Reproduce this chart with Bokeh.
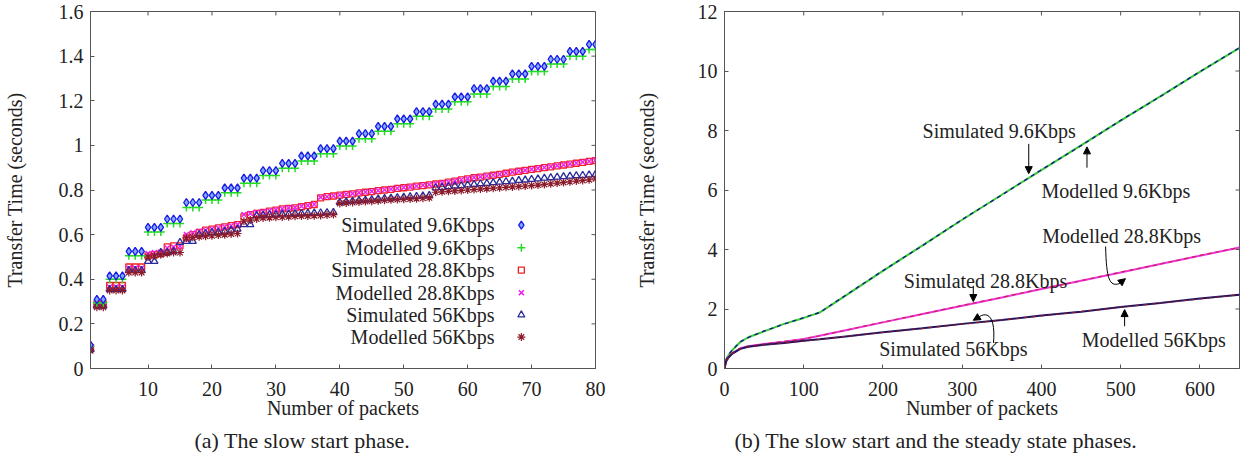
import math
from bokeh.plotting import figure
from bokeh.layouts import row
from bokeh.models import (FixedTicker, CustomJSTickFormatter, Range1d,
                          Label, Arrow, NormalHead, Title)
from bokeh.embed import file_html
from bokeh.resources import INLINE

FONT = "Liberation Serif"
FS = "20px"

# ---------------- data: (a) slow start phase ----------------
packets_a = list(range(1, 81))
sim_96 = [0.105,
          0.310, 0.310,
          0.415, 0.415, 0.415, 0.525, 0.525, 0.525, 0.632, 0.632, 0.632,
          0.670, 0.670, 0.670, 0.744, 0.744, 0.744, 0.776, 0.776, 0.776,
          0.810, 0.810, 0.810, 0.853, 0.853, 0.853, 0.887, 0.887, 0.887,
          0.919, 0.919, 0.919, 0.953, 0.953, 0.953, 0.985, 0.985, 0.985,
          1.019, 1.019, 1.019, 1.053, 1.053, 1.053, 1.085, 1.085, 1.085,
          1.119, 1.119, 1.119, 1.151, 1.151, 1.151, 1.185, 1.185, 1.185,
          1.217, 1.217, 1.217, 1.254, 1.254, 1.254, 1.288, 1.288, 1.288,
          1.320, 1.320, 1.320, 1.354, 1.354, 1.354, 1.386, 1.386, 1.386,
          1.421, 1.421, 1.421, 1.453, 1.453]
mod_96 = [0.100,
          0.295, 0.295,
          0.400, 0.400, 0.400, 0.505, 0.505, 0.505, 0.612, 0.612, 0.612,
          0.650, 0.650, 0.650, 0.722, 0.722, 0.722, 0.755, 0.755, 0.755,
          0.788, 0.788, 0.788, 0.830, 0.830, 0.830, 0.865, 0.865, 0.865,
          0.897, 0.897, 0.897, 0.930, 0.930, 0.930, 0.963, 0.963, 0.963,
          0.997, 0.997, 0.997, 1.030, 1.030, 1.030, 1.063, 1.063, 1.063,
          1.097, 1.097, 1.097, 1.130, 1.130, 1.130, 1.163, 1.163, 1.163,
          1.196, 1.196, 1.196, 1.230, 1.230, 1.230, 1.264, 1.264, 1.264,
          1.298, 1.298, 1.298, 1.331, 1.331, 1.331, 1.365, 1.365, 1.365,
          1.400, 1.400, 1.400, 1.430, 1.430]
sim_288 = [0.095,
           0.290, 0.290,
           0.372, 0.372, 0.372, 0.455, 0.455, 0.455, 0.505, 0.510, 0.515,
           0.545, 0.550, 0.550, 0.585, 0.600, 0.610, 0.620, 0.625, 0.630,
           0.635, 0.640, 0.645, 0.680, 0.690, 0.695, 0.700, 0.705, 0.710,
           0.715, 0.718, 0.720, 0.725, 0.730, 0.735, 0.765, 0.770, 0.773,
           0.777, 0.780, 0.783, 0.787, 0.790, 0.793, 0.797, 0.800, 0.803,
           0.807, 0.810, 0.813, 0.817, 0.820, 0.823, 0.827, 0.830, 0.835,
           0.840, 0.845, 0.850, 0.855, 0.858, 0.862, 0.866, 0.870, 0.875,
           0.880, 0.884, 0.888, 0.892, 0.896, 0.900, 0.904, 0.908, 0.912,
           0.916, 0.920, 0.924, 0.928, 0.932]
mod_288 = [0.090,
           0.285, 0.285,
           0.365, 0.365, 0.365, 0.450, 0.450, 0.450, 0.515, 0.520, 0.522,
           0.540, 0.545, 0.548, 0.600, 0.608, 0.615, 0.620, 0.625, 0.630,
           0.635, 0.640, 0.645, 0.690, 0.695, 0.700, 0.703, 0.707, 0.712,
           0.716, 0.720, 0.722, 0.727, 0.731, 0.736, 0.767, 0.770, 0.774,
           0.778, 0.781, 0.784, 0.788, 0.791, 0.794, 0.798, 0.801, 0.804,
           0.808, 0.811, 0.814, 0.818, 0.821, 0.824, 0.828, 0.832, 0.836,
           0.841, 0.846, 0.851, 0.856, 0.859, 0.863, 0.867, 0.871, 0.876,
           0.881, 0.885, 0.889, 0.893, 0.897, 0.901, 0.905, 0.909, 0.913,
           0.917, 0.921, 0.925, 0.929, 0.933]
sim_56 = [0.085,
          0.280, 0.280,
          0.355, 0.355, 0.355, 0.440, 0.440, 0.440, 0.480, 0.480, 0.520,
          0.520, 0.525, 0.565, 0.570, 0.570, 0.600, 0.605, 0.610, 0.610,
          0.615, 0.620, 0.625, 0.645, 0.645, 0.685, 0.687, 0.689, 0.690,
          0.692, 0.693, 0.694, 0.695, 0.696, 0.697, 0.698, 0.699, 0.700,
          0.745, 0.748, 0.750, 0.753, 0.755, 0.757, 0.760, 0.762, 0.764,
          0.766, 0.768, 0.770, 0.772, 0.774, 0.776, 0.810, 0.812, 0.815,
          0.818, 0.820, 0.823, 0.825, 0.828, 0.830, 0.833, 0.835, 0.838,
          0.840, 0.843, 0.845, 0.848, 0.850, 0.853, 0.855, 0.858, 0.860,
          0.862, 0.864, 0.866, 0.868, 0.870]
mod_56 = [0.080,
          0.275, 0.275,
          0.350, 0.350, 0.350, 0.430, 0.430, 0.430, 0.500, 0.505, 0.510,
          0.515, 0.520, 0.520, 0.585, 0.588, 0.590, 0.593, 0.595, 0.598,
          0.600, 0.603, 0.605, 0.660, 0.665, 0.670, 0.675, 0.676, 0.678,
          0.679, 0.680, 0.682, 0.683, 0.684, 0.685, 0.686, 0.688, 0.690,
          0.740, 0.742, 0.744, 0.746, 0.748, 0.750, 0.752, 0.754, 0.756,
          0.757, 0.758, 0.760, 0.761, 0.763, 0.765, 0.790, 0.792, 0.794,
          0.796, 0.798, 0.800, 0.802, 0.804, 0.806, 0.808, 0.810, 0.812,
          0.814, 0.816, 0.818, 0.820, 0.822, 0.825, 0.828, 0.831, 0.834,
          0.837, 0.840, 0.843, 0.846, 0.850]

# ---------------- data: (b) slow start + steady state ----------------
packets_b = [0, 2, 5, 10, 20, 30, 50, 75, 100, 120, 150, 200, 250, 300, 350,
             400, 450, 500, 550, 600, 650]
sim_96_b = [0, 0.30, 0.46, 0.63, 0.90, 1.04, 1.26, 1.49, 1.71, 1.88, 2.41,
            3.29, 4.13, 5.01, 5.83, 6.68, 7.49, 8.34, 9.14, 9.98, 10.78]
mod_96_b = [0, 0.29, 0.45, 0.62, 0.89, 1.05, 1.25, 1.50, 1.70, 1.88, 2.40,
            3.28, 4.14, 5.00, 5.84, 6.67, 7.50, 8.33, 9.15, 9.97, 10.78]
sim_288_b = [0, 0.25, 0.39, 0.52, 0.68, 0.75, 0.82, 0.91, 0.99, 1.10, 1.27,
             1.56, 1.83, 2.12, 2.39, 2.68, 2.95, 3.24, 3.51, 3.80, 4.07]
mod_288_b = [0, 0.25, 0.38, 0.52, 0.68, 0.75, 0.82, 0.90, 0.99, 1.10, 1.27,
             1.55, 1.83, 2.11, 2.39, 2.67, 2.95, 3.23, 3.51, 3.79, 4.07]
sim_56_b = [0, 0.24, 0.37, 0.50, 0.66, 0.73, 0.80, 0.86, 0.93, 0.98, 1.07,
            1.22, 1.35, 1.50, 1.63, 1.78, 1.91, 2.07, 2.20, 2.35, 2.48]
mod_56_b = [0, 0.24, 0.36, 0.50, 0.66, 0.73, 0.80, 0.86, 0.92, 0.98, 1.07,
            1.21, 1.35, 1.49, 1.63, 1.77, 1.91, 2.06, 2.20, 2.34, 2.48]

series_names = ["Simulated 9.6Kbps", "Modelled 9.6Kbps", "Simulated 28.8Kbps",
                "Modelled 28.8Kbps", "Simulated 56Kbps", "Modelled 56Kbps"]

xticks_a = [10, 20, 30, 40, 50, 60, 70, 80]
yticks_a = [0, 0.2, 0.4, 0.6, 0.8, 1.0, 1.2, 1.4, 1.6]
xticks_b = [0, 100, 200, 300, 400, 500, 600]
yticks_b = [0, 2, 4, 6, 8, 10, 12]

AX = "#555555"
TXT = "#222222"


def style_axis(ax, ticks):
    ax.ticker = FixedTicker(ticks=ticks)
    ax.major_tick_in = 4
    ax.major_tick_out = 0
    ax.minor_tick_line_color = None
    ax.axis_line_color = AX
    ax.major_tick_line_color = AX
    ax.major_label_text_font = FONT
    ax.major_label_text_color = TXT
    ax.major_label_text_font_size = FS
    ax.axis_label_text_font = FONT
    ax.axis_label_text_font_size = FS
    ax.axis_label_text_font_style = "normal"
    ax.axis_label_text_color = TXT


def make_fig(xr, yr, xt, yt, width, left, right, fmt_js):
    p = figure(width=width, height=464, x_range=xr, y_range=yr,
               output_backend="svg", toolbar_location=None,
               min_border_left=left, min_border_right=right,
               min_border_top=11, min_border_bottom=96)
    p.grid.visible = False
    p.outline_line_color = AX
    p.background_fill_color = "white"
    p.border_fill_color = "white"
    style_axis(p.xaxis[0], xt)
    style_axis(p.yaxis[0], yt)
    p.yaxis[0].formatter = CustomJSTickFormatter(code=fmt_js)
    p.xaxis[0].axis_label = "Number of packets"
    p.yaxis[0].axis_label = "Transfer Time (seconds)"
    p.xaxis[0].major_label_standoff = 13
    p.xaxis[0].axis_label_standoff = -2
    p.yaxis[0].major_label_standoff = 7
    # mirrored inward ticks on top and right frame edges
    p.ray(x=xt, y=[yr.end] * len(xt), length=4, length_units="screen",
          angle=-math.pi / 2, line_color=AX, line_width=1)
    p.ray(x=[xr.end] * len(yt), y=yt, length=4, length_units="screen",
          angle=math.pi, line_color=AX, line_width=1)
    return p


fmt = "return (Math.round(tick*10)/10).toString();"

# ---------------- figure (a) ----------------
p1 = make_fig(Range1d(1, 80), Range1d(0, 1.6), xticks_a, yticks_a, 632, 85, 37, fmt)
p1.yaxis[0].axis_label_standoff = 30

styles = [
    dict(marker="diamond", size=8, line_color="#1a1ae6", fill_color="#7fa8ff", line_width=1.3),
    dict(marker="cross", size=8, line_color="#22dd22", fill_color=None, line_width=1.5),
    dict(marker="square", size=6, line_color="#ee2222", fill_color=None, line_width=1.3),
    dict(marker="x", size=7, line_color="#ee22ee", fill_color=None, line_width=1.5),
    dict(marker="triangle", size=7, line_color="#2a2a9a", fill_color=None, line_width=1.3),
    dict(marker="asterisk", size=8, line_color="#8b1a2a", fill_color=None, line_width=1.2),
]
series_a = [sim_96, mod_96, sim_288, mod_288, sim_56, mod_56]
draw_order = [2, 3, 4, 5, 1, 0]
for i in draw_order:
    p1.scatter(packets_a, series_a[i], **styles[i])

# key (gnuplot style: label then symbol)
key_text_x = 64.2
key_mark_x = 68.4
key_rows = [0.643, 0.541, 0.441, 0.340, 0.240, 0.141]
for name, yy, st in zip(series_names, key_rows, styles):
    p1.add_layout(Label(x=key_text_x, y=yy, text=name, text_align="right",
                        text_baseline="middle", text_font=FONT,
                        text_font_size=FS, text_color=TXT))
    p1.scatter([key_mark_x], [yy], **st)

p1.add_layout(Title(text="(a) The slow start phase.", align="left", offset=104,
                    text_font=FONT, text_font_size="22px",
                    text_font_style="normal", text_color=TXT,
                    standoff=8), "below")

# ---------------- figure (b) ----------------
p2 = make_fig(Range1d(0, 650), Range1d(0, 12), xticks_b, yticks_b, 611, 87, 4, fmt)
p2.yaxis[0].axis_label_standoff = 37

p2.line(packets_b, mod_96_b, line_color="#33cc33", line_width=2)
p2.line(packets_b, sim_96_b, line_color="#1a1a8c", line_width=1.4, line_dash="4 4")
p2.line(packets_b, mod_288_b, line_color="#ee33dd", line_width=2)
p2.line(packets_b, sim_288_b, line_color="#cc2255", line_width=1.2, line_dash="4 4")
p2.line(packets_b, sim_56_b, line_color="#1b1464", line_width=2)
p2.line(packets_b, mod_56_b, line_color="#8b1a2a", line_width=1.2, line_dash="4 4")


def lab(p, x, y, t, align="left"):
    p.add_layout(Label(x=x, y=y, text=t, text_align=align, text_baseline="middle",
                       text_font=FONT, text_font_size=FS, text_color=TXT))


def arr(p, x0, y0, x1, y1):
    p.add_layout(Arrow(end=NormalHead(size=7, fill_color="black", line_color="black"),
                       x_start=x0, y_start=y0, x_end=x1, y_end=y1,
                       line_color="black", line_width=1))


lab(p2, 250, 7.97, "Simulated 9.6Kbps")
arr(p2, 384, 7.55, 384, 6.55)
lab(p2, 400, 5.98, "Modelled 9.6Kbps")
arr(p2, 457.5, 6.75, 457.5, 7.45)
lab(p2, 401, 4.45, "Modelled 28.8Kbps")
p2.bezier(x0=[481], y0=[4.1], x1=[498], y1=[2.85], cx0=[482], cy0=[3.0],
          cx1=[486], cy1=[2.75], line_color="black", line_width=1)
arr(p2, 498, 2.85, 506, 3.02)
lab(p2, 432.5, 2.95, "Simulated 28.8Kbps", align="right")
arr(p2, 314, 2.78, 314, 2.25)
lab(p2, 382.5, 0.66, "Simulated 56Kbps", align="right")
p2.bezier(x0=[339.5], y0=[0.86], x1=[322], y1=[1.75], cx0=[342], cy0=[1.6],
          cx1=[335], cy1=[1.95], line_color="black", line_width=1)
arr(p2, 322, 1.75, 314, 1.62)
lab(p2, 451, 0.96, "Modelled 56Kbps")
arr(p2, 505, 1.42, 505, 1.98)

p2.add_layout(Title(text="(b) The slow start and the steady state phases.",
                    align="left", offset=10, text_font=FONT, text_font_size="22px",
                    text_font_style="normal", text_color=TXT,
                    standoff=8), "below")

layout = row(p1, p2, spacing=0)
open("out.html", "w").write(file_html(layout, INLINE))
